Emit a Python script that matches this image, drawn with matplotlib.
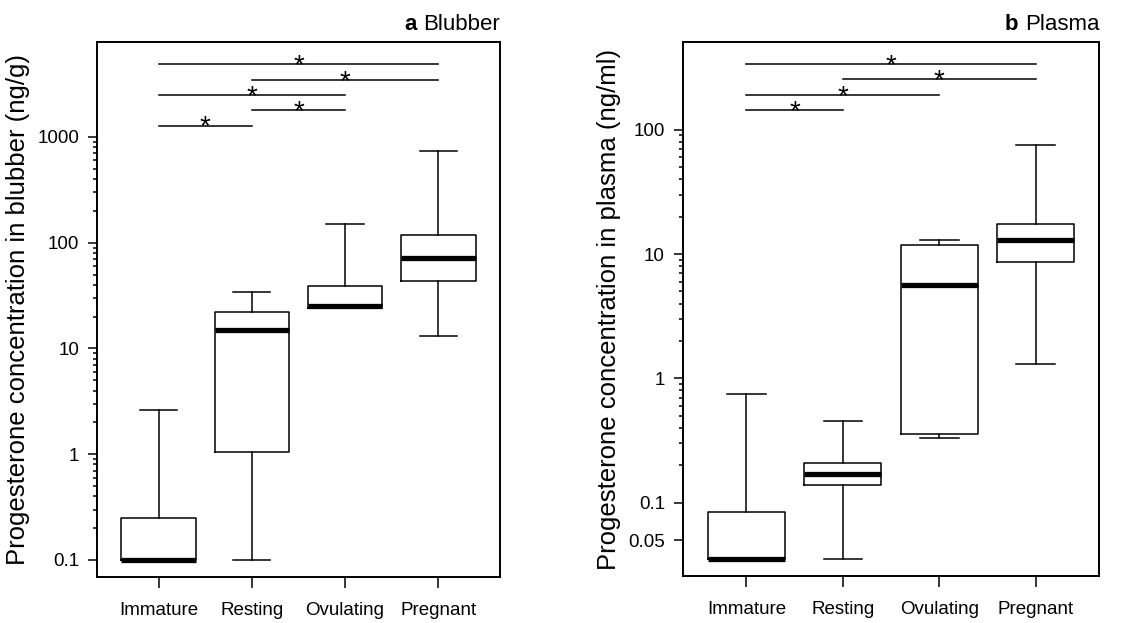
import numpy as np
import matplotlib
matplotlib.use('Agg')
import matplotlib.pyplot as plt
from matplotlib.ticker import FixedLocator, NullFormatter

plt.rcParams['font.family'] = ['Liberation Sans', 'DejaVu Sans']

categories = ['Immature', 'Resting', 'Ovulating', 'Pregnant']

# blubber (ng/g)
blubber_whislo = [0.1, 0.1, 24.0, 13.0]
blubber_q1 = [0.1, 1.05, 24.0, 43.0]
blubber_med = [0.1, 15.0, 25.0, 72.0]
blubber_q3 = [0.25, 22.0, 39.0, 119.0]
blubber_whishi = [2.6, 34.0, 149.0, 735.0]
# significant pairs (group a, group b, bar height)
blubber_sig = [(1, 4, 4850), (2, 4, 3470), (1, 3, 2490), (2, 3, 1800), (1, 2, 1280)]

# plasma (ng/ml)
plasma_whislo = [0.035, 0.035, 0.333, 1.3]
plasma_q1 = [0.035, 0.14, 0.36, 8.7]
plasma_med = [0.035, 0.17, 5.6, 13.0]
plasma_q3 = [0.084, 0.21, 11.9, 17.3]
plasma_whishi = [0.75, 0.45, 13.0, 75.0]
plasma_sig = [(1, 4, 338), (2, 4, 254), (1, 3, 191), (1, 2, 145)]


def make_stats(lo, q1, med, q3, hi):
    return [dict(whislo=a, q1=b, med=c, q3=d, whishi=e, fliers=[])
            for a, b, c, d, e in zip(lo, q1, med, q3, hi)]


def draw_panel(ax, stats, sig, ylim, major, major_labels, minor, ylabel, letter, title, label_x):
    lw = 1.1
    pos = np.arange(1, len(categories) + 1)
    ax.bxp(stats, positions=pos, widths=0.8, capwidths=0.4, showfliers=False,
           boxprops=dict(color='black', linewidth=lw),
           whiskerprops=dict(color='black', linewidth=lw),
           capprops=dict(color='black', linewidth=lw),
           medianprops=dict(color='black', linewidth=3.8, solid_capstyle='butt'))
    ax.set_yscale('log')
    ax.set_ylim(*ylim)
    ax.set_xlim(0.34, 4.66)
    ax.yaxis.set_major_locator(FixedLocator(major))
    ax.set_yticklabels(major_labels)
    ax.yaxis.set_minor_locator(FixedLocator(minor))
    ax.yaxis.set_minor_formatter(NullFormatter())
    ax.set_xticks(pos)
    ax.set_xticklabels(categories)
    ax.tick_params(axis='y', which='major', direction='out', length=6.8, width=lw,
                   labelsize=13.5, pad=6)
    ax.tick_params(axis='y', which='minor', direction='out', length=3, width=lw)
    ax.tick_params(axis='x', direction='out', length=8.2, width=lw, labelsize=13.5, pad=10)
    for s in ax.spines.values():
        s.set_linewidth(1.4)

    # significance bars with a star just above the middle
    for a, b, y in sig:
        ax.plot([a, b], [y, y], color='black', linewidth=lw)
        ax.annotate('*', xy=((a + b) / 2, y), xytext=(0, -6.5), textcoords='offset points',
                    ha='center', va='baseline', fontsize=20)

    ax.set_ylabel(ylabel, fontsize=18.5)
    ax.yaxis.set_label_coords(label_x, 0.5)

    t = ax.text(1.0, 1.022, title, transform=ax.transAxes, ha='right', va='baseline', fontsize=16)
    ax.annotate(letter, xy=(0, 0), xycoords=t, xytext=(-5, 0), textcoords='offset points',
                ha='right', va='bottom', fontsize=16, fontweight='bold')


fig = plt.figure(figsize=(11.48, 6.23), dpi=100)
ax1 = fig.add_axes([0.0845, 0.0738, 0.3510, 0.8588])
ax2 = fig.add_axes([0.5947, 0.0754, 0.3629, 0.8572])

draw_panel(ax1, make_stats(blubber_whislo, blubber_q1, blubber_med, blubber_q3, blubber_whishi),
           blubber_sig, (0.069, 7900), [0.1, 1, 10, 100, 1000], ['0.1', '1', '10', '100', '1000'],
           [m * 10.0 ** k for k in range(-1, 3) for m in range(2, 10)],
           'Progesterone concentration in blubber (ng/g)', 'a', 'Blubber', -0.166)

draw_panel(ax2, make_stats(plasma_whislo, plasma_q1, plasma_med, plasma_q3, plasma_whishi),
           plasma_sig, (0.0257, 508), [0.05, 0.1, 1, 10, 100], ['0.05', '0.1', '1', '10', '100'],
           [m * 10.0 ** k for k in range(-1, 2) for m in range(2, 10)],
           'Progesterone concentration in plasma (ng/ml)', 'b', 'Plasma', -0.148)

fig.savefig('out.png', dpi=100)
